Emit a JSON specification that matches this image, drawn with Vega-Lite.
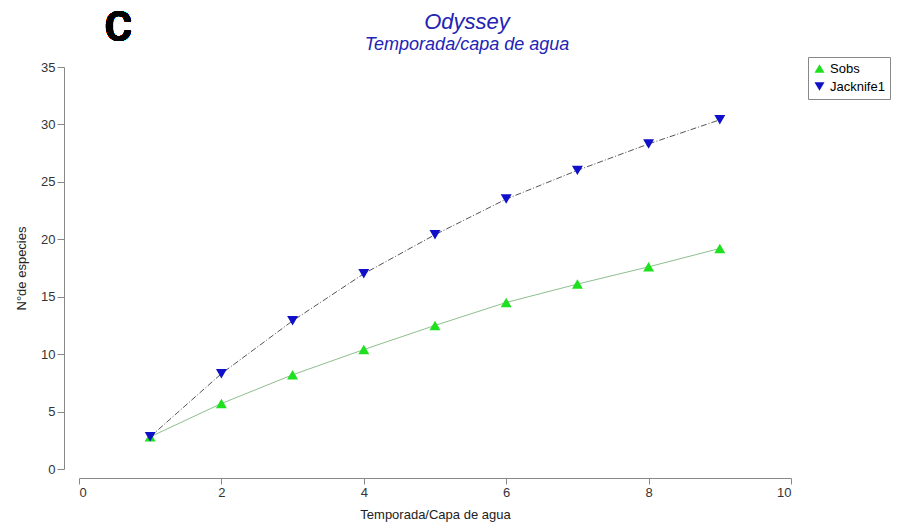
{
  "$schema": "https://vega.github.io/schema/vega-lite/v6.json",
  "width": 712,
  "height": 402,
  "autosize": {"type": "none"},
  "padding": {"left": 79, "top": 67, "right": 120, "bottom": 63},
  "background": "white",
  "config": {"font": "Liberation Sans", "view": {"stroke": null}},
  "title": {
    "text": "Odyssey",
    "subtitle": "Temporada/capa de agua",
    "color": "#2323b4",
    "subtitleColor": "#2323b4",
    "font": "Liberation Sans",
    "subtitleFont": "Liberation Sans",
    "fontStyle": "italic",
    "subtitleFontStyle": "italic",
    "fontWeight": "normal",
    "fontSize": 22,
    "subtitleFontSize": 18,
    "anchor": "middle",
    "frame": "group",
    "dx": 32,
    "offset": -48,
    "subtitlePadding": 2
  },
  "data": {
    "values": [
      {"x": 1, "series": "Sobs", "y": 2.8},
      {"x": 2, "series": "Sobs", "y": 5.7},
      {"x": 3, "series": "Sobs", "y": 8.2},
      {"x": 4, "series": "Sobs", "y": 10.4},
      {"x": 5, "series": "Sobs", "y": 12.5},
      {"x": 6, "series": "Sobs", "y": 14.5},
      {"x": 7, "series": "Sobs", "y": 16.1},
      {"x": 8, "series": "Sobs", "y": 17.6},
      {"x": 9, "series": "Sobs", "y": 19.2},
      {"x": 1, "series": "Jacknife1", "y": 2.8},
      {"x": 2, "series": "Jacknife1", "y": 8.3},
      {"x": 3, "series": "Jacknife1", "y": 12.9},
      {"x": 4, "series": "Jacknife1", "y": 17.0},
      {"x": 5, "series": "Jacknife1", "y": 20.4},
      {"x": 6, "series": "Jacknife1", "y": 23.5},
      {"x": 7, "series": "Jacknife1", "y": 26.0},
      {"x": 8, "series": "Jacknife1", "y": 28.3},
      {"x": 9, "series": "Jacknife1", "y": 30.4}
    ]
  },
  "encoding": {
    "x": {
      "field": "x",
      "type": "quantitative",
      "scale": {"domain": [0, 10], "nice": false, "zero": false},
      "axis": {
        "values": [0, 2, 4, 6, 8, 10],
        "offset": 9,
        "grid": false,
        "domainColor": "#888",
        "tickColor": "#888",
        "tickSize": 6,
        "labelFontSize": 13,
        "labelColor": "#333",
        "labelPadding": 2,
        "title": "Temporada/Capa de agua",
        "titleFontSize": 13,
        "titleFontWeight": "normal",
        "titleColor": "#222",
        "titlePadding": 9
      }
    },
    "y": {
      "field": "y",
      "type": "quantitative",
      "scale": {"domain": [0, 35], "nice": false},
      "axis": {
        "values": [0, 5, 10, 15, 20, 25, 30, 35],
        "offset": 15,
        "grid": false,
        "domainColor": "#888",
        "tickColor": "#888",
        "tickSize": 7,
        "labelFontSize": 13,
        "labelColor": "#333",
        "labelPadding": 2,
        "title": "N°de especies",
        "titleFontSize": 13,
        "titleFontWeight": "normal",
        "titleColor": "#222",
        "titlePadding": 12
      }
    }
  },
  "layer": [
    {
      "transform": [{"filter": "datum.series === 'Sobs'"}],
      "mark": {"type": "line", "color": "#8fbf8f", "strokeWidth": 1}
    },
    {
      "transform": [{"filter": "datum.series === 'Jacknife1'"}],
      "mark": {"type": "line", "color": "#555", "strokeWidth": 1, "strokeDash": [6, 2, 1, 2]}
    },
    {
      "mark": {"type": "point", "filled": true, "opacity": 1, "size": 120},
      "encoding": {
        "color": {
          "field": "series",
          "type": "nominal",
          "scale": {"domain": ["Sobs", "Jacknife1"], "range": ["#1ee01e", "#1010c8"]},
          "legend": {
            "title": null,
            "orient": "none",
            "legendX": 729,
            "legendY": -10,
            "strokeColor": "#888",
            "fillColor": "white",
            "padding": 5,
            "labelFontSize": 13,
            "labelColor": "#000",
            "symbolSize": 100,
            "rowPadding": 4
          }
        },
        "shape": {
          "field": "series",
          "type": "nominal",
          "scale": {"domain": ["Sobs", "Jacknife1"], "range": ["triangle-up", "triangle-down"]}
        }
      }
    },
    {
      "mark": {"type": "text", "text": "C", "fontSize": 42, "fontWeight": "bold", "font": "Roboto", "color": "#000", "align": "center", "baseline": "middle"},
      "encoding": {
        "x": {"datum": 0.55, "type": "quantitative"},
        "y": {"datum": 38.4, "type": "quantitative"}
      }
    }
  ]
}
